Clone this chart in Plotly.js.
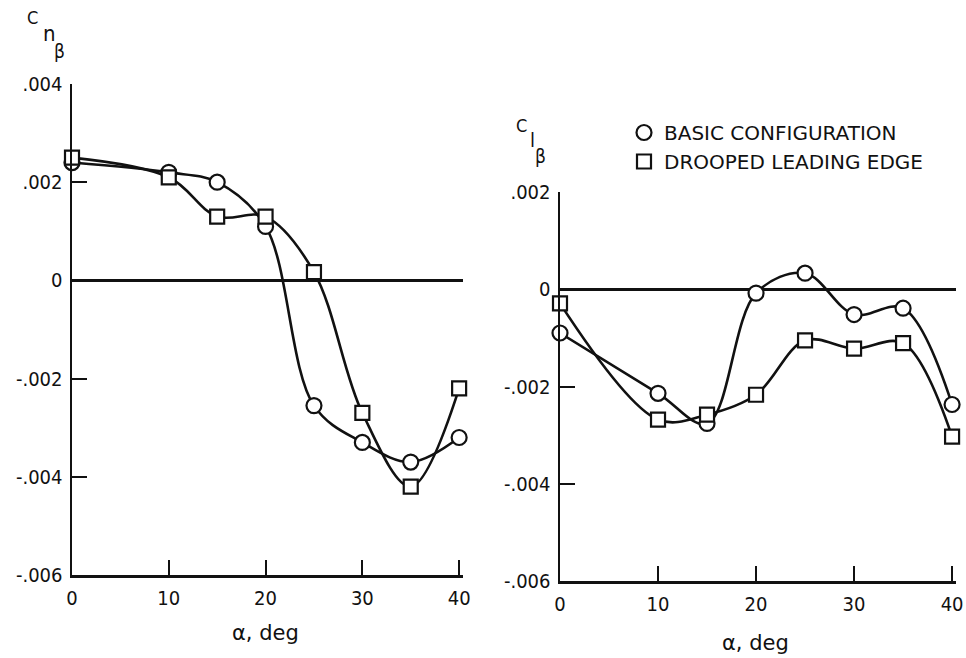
<!DOCTYPE html>
<html>
<head>
<meta charset="utf-8">
<script src="https://cdn.plot.ly/plotly-3.0.1.min.js"></script>
<style>
  html, body { margin: 0; padding: 0; background: #fff; }
  #chart { width: 966px; height: 658px; }
</style>
</head>
<body>
<div id="chart"></div>
<script>
// Angle of attack, deg
const alpha = [0, 10, 15, 20, 25, 30, 35, 40];

// Left panel: C_n_beta
const cnBasic   = [0.0024, 0.0022, 0.0020, 0.0011, -0.00255, -0.0033, -0.0037, -0.0032];
const cnDrooped = [0.0025, 0.0021, 0.0013, 0.0013, 0.00017, -0.0027, -0.0042, -0.0022];

// Right panel: C_l_beta
const clBasic   = [-0.0009, -0.00214, -0.00276, -0.00008, 0.00033, -0.00052, -0.00039, -0.00237];
const clDrooped = [-0.00029, -0.00268, -0.00258, -0.00217, -0.00105, -0.00122, -0.00111, -0.00303];

const seriesNames = ["BASIC CONFIGURATION", "DROOPED LEADING EDGE"];

const xTickVals = [0, 10, 20, 30, 40];
const xTickText = ["0", "10", "20", "30", "40"];
const cnTickVals = [-0.006, -0.004, -0.002, 0, 0.002, 0.004];
const cnTickText = ["-.006", "-.004", "-.002", "0", ".002", ".004"];
const clTickVals = [-0.006, -0.004, -0.002, 0, 0.002];
const clTickText = ["-.006", "-.004", "-.002", "0", ".002"];

const FONT = "DejaVu Sans Condensed, Liberation Sans Narrow, sans-serif";
const FONT2 = "DejaVu Sans, sans-serif";
const INK = "#111";

function lineTrace(y, xa, ya) {
  return { x: alpha, y: y, xaxis: xa, yaxis: ya, mode: "lines", type: "scatter",
    line: { color: INK, width: 2.6, shape: "spline", smoothing: 1 },
    showlegend: false, hoverinfo: "skip", cliponaxis: false };
}
function markTrace(y, xa, ya, sym, name, show) {
  return { x: alpha, y: y, xaxis: xa, yaxis: ya, mode: "markers", type: "scatter",
    name: name, showlegend: show,
    marker: { symbol: sym, size: sym === "circle" ? 15 : 14, color: "#fff",
      line: { color: INK, width: 2.2 } },
    cliponaxis: false };
}

const data = [
  lineTrace(cnBasic, "x", "y"),
  lineTrace(cnDrooped, "x", "y"),
  lineTrace(clBasic, "x2", "y2"),
  lineTrace(clDrooped, "x2", "y2"),
  markTrace(cnBasic, "x", "y", "circle", seriesNames[0], true),
  markTrace(cnDrooped, "x", "y", "square", seriesNames[1], true),
  markTrace(clBasic, "x2", "y2", "circle", seriesNames[0], false),
  markTrace(clDrooped, "x2", "y2", "square", seriesNames[1], false)
];

function xAxis(domain, anchor) {
  return { domain: domain, anchor: anchor, range: [0, 40.4], showgrid: false, zeroline: false,
    showline: true, linecolor: INK, linewidth: 2.5,
    ticks: "inside", ticklen: 15, tickwidth: 2, tickcolor: INK,
    tickvals: xTickVals, ticktext: xTickText, ticklabelstandoff: 3,
    tickfont: { family: FONT, size: 20, color: INK } };
}
function yAxis(domain, anchor, range, tv, tt) {
  return { domain: domain, anchor: anchor, range: range, showgrid: false,
    zeroline: true, zerolinecolor: INK, zerolinewidth: 2.5,
    showline: true, linecolor: INK, linewidth: 2.5,
    ticks: "inside", ticklen: 15, tickwidth: 2, tickcolor: INK,
    tickvals: tv, ticktext: tt, ticklabelstandoff: 3,
    tickfont: { family: FONT, size: 20, color: INK } };
}

const W = 966, H = 658;
const px = v => v / W;
const py = v => 1 - v / H;

function ann(text, x, y, size, fam) {
  return { text: text, x: px(x), y: py(y), xref: "paper", yref: "paper",
    showarrow: false, xanchor: "center", yanchor: "middle",
    font: { family: fam || FONT, size: size, color: INK } };
}

const layout = {
  width: W, height: H,
  margin: { l: 0, r: 0, t: 0, b: 0 },
  paper_bgcolor: "#fff", plot_bgcolor: "#fff",
  xaxis: xAxis([px(72), px(463)], "y"),
  yaxis: yAxis([1 - 575 / H, 1 - 84 / H], "x", [-0.006, 0.004], cnTickVals, cnTickText),
  xaxis2: xAxis([px(560), px(956)], "y2"),
  yaxis2: yAxis([1 - 581 / H, 1 - 192 / H], "x2", [-0.006, 0.002], clTickVals, clTickText),
  showlegend: true,
  legend: { x: px(624), y: py(113), xanchor: "left", yanchor: "top",
    bgcolor: "rgba(0,0,0,0)", tracegroupgap: 0, itemclick: false,
    font: { family: FONT2, size: 20, color: INK } },
  annotations: [
    ann("C", 32, 17, 18),
    ann("n", 49, 33, 22),
    ann("β", 59, 51, 19),
    ann("C", 521, 125, 18),
    ann("l", 532, 140, 20),
    ann("β", 540, 156, 19),
    ann("α, deg", 265, 633, 21, FONT2),
    ann("α, deg", 755, 643, 21, FONT2)
  ]
};

Plotly.newPlot("chart", data, layout, { displayModeBar: false, staticPlot: true });
</script>
</body>
</html>
